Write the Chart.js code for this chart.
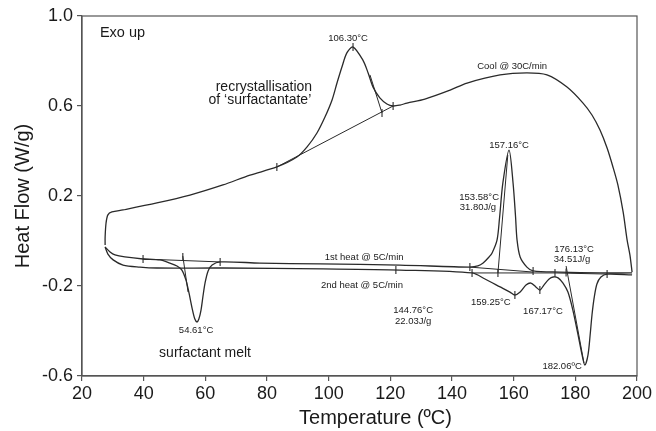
<!DOCTYPE html>
<html>
<head>
<meta charset="utf-8">
<script src="https://cdn.jsdelivr.net/npm/chart.js@4.4.1/dist/chart.umd.min.js"></script>
<style>
  html, body { margin: 0; padding: 0; background: #fff; }
  #wrap { width: 656px; height: 431px; position: relative; }
</style>
</head>
<body>
<div id="wrap"><canvas id="dsc"></canvas></div>
<script>
// axis ticks
const xTicks = [20, 40, 60, 80, 100, 120, 140, 160, 180, 200];
const yTicks = [-0.6, -0.2, 0.2, 0.6, 1.0];

// cooling run @ 30C/min (drawn from 198C down to 27C)
const coolT = [198.4, 197.7, 196.8, 195.5, 193.8, 192.2, 190.3, 188.0, 185.4, 182.5, 177.3, 170.8, 164.3, 155.6, 144.9, 139.4, 131.2, 125.4, 123.1, 120.9,
  118.9, 116.6, 114.4, 112.8, 111.1, 107.9, 105.9, 104.3, 102.7, 101.1, 98.8, 96.2, 93.0, 89.7, 83.2, 74.5, 65.7, 55.0, 44.3, 33.3, 29.7, 28.4, 27.8, 27.5, 27.5];
const coolHF = [-0.138, -0.062, 0.004, 0.129, 0.249, 0.329, 0.413, 0.493, 0.560, 0.613, 0.684, 0.738, 0.747, 0.738, 0.702, 0.671, 0.631, 0.613, 0.604, 0.600,
  0.609, 0.636, 0.684, 0.747, 0.804, 0.862, 0.836, 0.773, 0.702, 0.627, 0.551, 0.480, 0.418, 0.373, 0.329, 0.293, 0.249, 0.204, 0.169, 0.138, 0.129, 0.116, 0.080, 0.018, -0.018];

// 1st heat @ 5C/min
const heat1T = [27.5, 29.1, 30.7, 33.9, 39.8, 45.3, 48.5, 50.8, 52.4, 53.7, 54.7, 55.7, 56.6, 57.3, 57.9, 58.6, 59.2, 59.9, 60.9, 62.2, 64.8, 77.7, 97.2, 123.1,
  145.8, 148.4, 150.1, 152.0, 153.0, 154.6, 155.4, 156.5, 158.5, 159.8, 160.6, 161.1, 162.1, 164.3, 166.3, 175.0, 188.0, 198.4];
const heat1HF = [-0.027, -0.049, -0.062, -0.071, -0.080, -0.084, -0.098, -0.111, -0.129, -0.173, -0.231, -0.298, -0.347, -0.360, -0.347, -0.307, -0.249, -0.187, -0.133, -0.107, -0.093, -0.098, -0.102, -0.107,
  -0.116, -0.111, -0.098, -0.071, -0.053, 0.004, 0.100, 0.258, 0.404, 0.258, 0.110, 0.004, -0.071, -0.116, -0.133, -0.138, -0.142, -0.142];

// 2nd heat @ 5C/min
const heat2T = [27.5, 28.4, 30.1, 33.3, 38.8, 44.3, 65.7, 98.2, 123.1, 146.5, 150.7, 155.6, 158.8, 160.4, 162.1, 164.0, 165.6, 167.2, 168.5, 169.8, 171.5, 172.8, 174.4,
  176.0, 177.6, 179.2, 180.9, 182.2, 183.1, 184.1, 184.8, 185.4, 186.1, 187.0, 188.3, 190.3, 198.4];
const heat2HF = [-0.027, -0.058, -0.084, -0.107, -0.116, -0.120, -0.120, -0.124, -0.129, -0.142, -0.169, -0.204, -0.227, -0.240, -0.227, -0.196, -0.187, -0.204, -0.218, -0.196, -0.169, -0.160, -0.164,
  -0.187, -0.227, -0.307, -0.418, -0.507, -0.551, -0.507, -0.418, -0.329, -0.253, -0.191, -0.160, -0.147, -0.151];

// analysis lines: baselines and onset tangents [T1, HF1, T2, HF2]
const guideLines = [
  [83.2, 0.329, 120.9, 0.600],
  [113.4, 0.738, 117.3, 0.569],
  [52.7, -0.067, 54.4, -0.227],
  [39.8, -0.080, 64.8, -0.093],
  [154.9, -0.142, 158.1, 0.382],
  [145.8, -0.116, 166.3, -0.138],
  [146.5, -0.142, 173.4, -0.142],
  [177.0, -0.111, 182.8, -0.542],
  [173.4, -0.142, 190.3, -0.147]
];

// small limit marks
const markT = [83.2, 117.3, 120.9, 107.9, 39.8, 52.7, 64.8, 145.8, 154.9, 166.3, 121.8, 146.5, 160.4, 168.5, 173.4, 177.0, 190.3];
const markHF = [0.329, 0.569, 0.600, 0.862, -0.080, -0.071, -0.093, -0.116, -0.142, -0.133, -0.129, -0.142, -0.240, -0.218, -0.142, -0.140, -0.147];

// text labels
const noteText = ['Exo up', '106.30°C', 'recrystallisation', 'of \u2018surfactantate\u2019', 'Cool @ 30C/min', '157.16°C', '153.58°C', '31.80J/g',
  '1st heat @ 5C/min', '2nd heat @ 5C/min', '176.13°C', '34.51J/g', '159.25°C', '167.17°C', '144.76°C', '22.03J/g', '182.06ºC', '54.61°C', 'surfactant melt'];
const noteT = [25.8, 106.3, 79.0, 77.7, 159.5, 158.5, 148.8, 148.4, 111.5, 110.8, 179.6, 178.9, 152.6, 169.5, 127.4, 127.4, 175.7, 57.0, 59.9];
const noteHF = [0.924, 0.902, 0.684, 0.624, 0.778, 0.427, 0.196, 0.151, -0.071, -0.196, -0.036, -0.080, -0.271, -0.311, -0.307, -0.356, -0.556, -0.396, -0.498];
const noteSize = [14.5, 9.5, 14, 14, 9.5, 9.5, 9.5, 9.5, 9.5, 9.5, 9.5, 9.5, 9.5, 9.5, 9.5, 9.5, 9.5, 9.5, 14];

const FONT = 'Arial, "Liberation Sans", Helvetica, sans-serif';
const INK = '#2a2a2a';

function pts(xs, ys) {
  return xs.map((x, i) => ({ x: x, y: ys[i] }));
}

const datasets = [
  { data: pts(coolT, coolHF) },
  { data: pts(heat1T, heat1HF) },
  { data: pts(heat2T, heat2HF) }
].map(d => Object.assign(d, {
  showLine: true, borderColor: INK, borderWidth: 1.3, pointRadius: 0, tension: 0.3, fill: false
}));

guideLines.forEach(g => {
  datasets.push({
    data: [{ x: g[0], y: g[1] }, { x: g[2], y: g[3] }],
    showLine: true, borderColor: INK, borderWidth: 1, pointRadius: 0, tension: 0
  });
});

datasets.push({
  data: pts(markT, markHF),
  showLine: false, pointStyle: 'line', rotation: 90, pointRadius: 4,
  borderColor: INK, borderWidth: 1.1
});

const notesPlugin = {
  id: 'notes',
  afterDraw(chart) {
    const ctx = chart.ctx;
    const sx = chart.scales.x, sy = chart.scales.y;
    const a = chart.chartArea;
    ctx.save();
    ctx.strokeStyle = '#555';
    ctx.lineWidth = 1.2;
    ctx.strokeRect(a.left, a.top, a.right - a.left, a.bottom - a.top);
    ctx.fillStyle = '#1a1a1a';
    ctx.textBaseline = 'middle';
    noteText.forEach((t, i) => {
      ctx.font = noteSize[i] + 'px ' + FONT;
      ctx.textAlign = i === 0 ? 'left' : 'center';
      ctx.fillText(t, sx.getPixelForValue(noteT[i]), sy.getPixelForValue(noteHF[i]));
    });
    // x axis title, sits a little right of centre in the original
    ctx.font = '20px ' + FONT;
    ctx.textAlign = 'center';
    ctx.fillText('Temperature (ºC)', (a.left + a.right) / 2 + 16, a.bottom + 42);
    ctx.restore();
  }
};

new Chart(document.getElementById('dsc'), {
  type: 'scatter',
  data: { datasets: datasets },
  options: {
    responsive: true,
    maintainAspectRatio: false,
    animation: false,
    layout: { padding: { left: 0, top: 16, right: 19, bottom: 0 } },
    plugins: { legend: { display: false }, tooltip: { enabled: false } },
    scales: {
      x: {
        type: 'linear', min: 20, max: 200,
        afterBuildTicks: s => { s.ticks = xTicks.map(v => ({ value: v })); },
        afterFit: s => { s.height = 55; },
        grid: { drawOnChartArea: false, drawTicks: true, tickLength: 5, color: '#555', lineWidth: 1.2 },
        border: { color: '#555', width: 1.2 },
        ticks: { color: '#1a1a1a', font: { family: FONT, size: 18 }, padding: 2, maxRotation: 0 },
        title: { display: false }
      },
      y: {
        type: 'linear', min: -0.6, max: 1.0,
        afterBuildTicks: s => { s.ticks = yTicks.map(v => ({ value: v })); },
        afterFit: s => { s.width = 82; },
        grid: { drawOnChartArea: false, drawTicks: true, tickLength: 5, color: '#555', lineWidth: 1.2 },
        border: { color: '#555', width: 1.2 },
        ticks: { color: '#1a1a1a', font: { family: FONT, size: 18 }, padding: 4, callback: v => v.toFixed(1) },
        title: { display: true, text: 'Heat Flow (W/g)', color: '#1a1a1a', font: { family: FONT, size: 20 }, padding: { top: 11, bottom: 0 } }
      }
    }
  },
  plugins: [notesPlugin]
});
</script>
</body>
</html>
